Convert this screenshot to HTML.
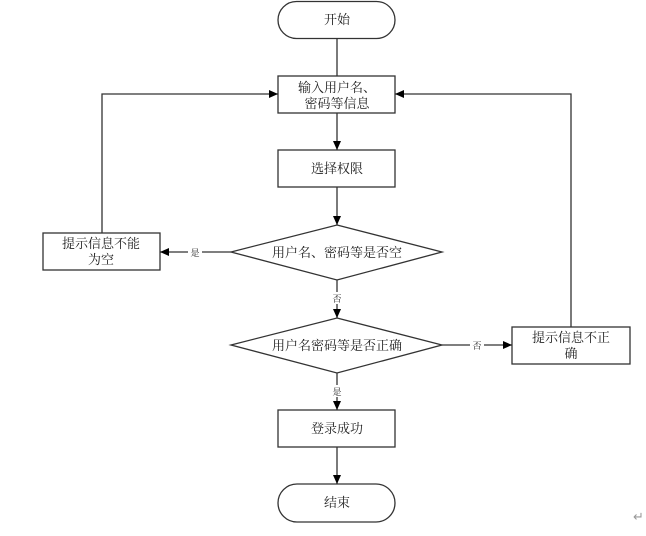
<!DOCTYPE html>
<html><head><meta charset="utf-8"><style>
html,body{margin:0;padding:0;background:#fff;}
text{font-family:"Liberation Serif","Noto Serif CJK SC","Noto Sans CJK SC",serif;fill:#222;}
</style></head><body>
<svg width="646" height="531" viewBox="0 0 646 531" xmlns="http://www.w3.org/2000/svg">
<defs><marker id="a" markerWidth="10" markerHeight="10" refX="9" refY="5" orient="auto" markerUnits="userSpaceOnUse"><path d="M0,1 L9,5 L0,9 Z" fill="#000"/></marker></defs>
<g stroke="#333" stroke-width="1.3" fill="none">
<rect x="278" y="1.5" width="117" height="37" rx="18.5" fill="#fff"/>
<rect x="278" y="76" width="117" height="37" fill="#fff"/>
<rect x="278" y="150" width="117" height="37" fill="#fff"/>
<path d="M337,225 L442,252 L337,280 L231,252 Z" fill="#fff"/>
<rect x="43" y="233" width="117" height="37" fill="#fff"/>
<path d="M337,318 L442,345 L337,373 L231,345 Z" fill="#fff"/>
<rect x="512" y="327" width="118" height="37" fill="#fff"/>
<rect x="278" y="410" width="117" height="37" fill="#fff"/>
<rect x="278" y="484" width="117" height="38" rx="19" fill="#fff"/>
<line x1="337" y1="38" x2="337" y2="76"/>
<line x1="337" y1="113" x2="337" y2="150" marker-end="url(#a)"/>
<line x1="337" y1="187" x2="337" y2="225" marker-end="url(#a)"/>
<line x1="231" y1="252" x2="160" y2="252" marker-end="url(#a)"/>
<polyline points="102,233 102,94 278,94" marker-end="url(#a)"/>
<line x1="337" y1="280" x2="337" y2="318" marker-end="url(#a)"/>
<line x1="442" y1="345" x2="512" y2="345" marker-end="url(#a)"/>
<polyline points="571,327 571,94 395,94" marker-end="url(#a)"/>
<line x1="337" y1="373" x2="337" y2="410" marker-end="url(#a)"/>
<line x1="337" y1="447" x2="337" y2="484" marker-end="url(#a)"/>
</g>
<g font-size="13" text-anchor="middle">
<text x="337" y="24">开始</text>
<text x="337" y="92">输入用户名、</text>
<text x="337" y="108">密码等信息</text>
<text x="337" y="173">选择权限</text>
<text x="337" y="257">用户名、密码等是否空</text>
<text x="101" y="248">提示信息不能</text>
<text x="101" y="264">为空</text>
<text x="337" y="350">用户名密码等是否正确</text>
<text x="571" y="342">提示信息不正</text>
<text x="571" y="358">确</text>
<text x="337" y="433">登录成功</text>
<text x="337" y="507">结束</text>
</g>
<g font-size="9" text-anchor="middle">
<rect x="188" y="246" width="14" height="12" fill="#fff"/>
<text x="195" y="256">是</text>
<rect x="330" y="292" width="14" height="12" fill="#fff"/>
<text x="337" y="302">否</text>
<rect x="470" y="339" width="14" height="12" fill="#fff"/>
<text x="477" y="349">否</text>
<rect x="330" y="385" width="14" height="12" fill="#fff"/>
<text x="337" y="395">是</text>
</g>
<text x="633" y="521" font-size="13" fill="#999" style="fill:#999">↵</text>
</svg>
</body></html>
